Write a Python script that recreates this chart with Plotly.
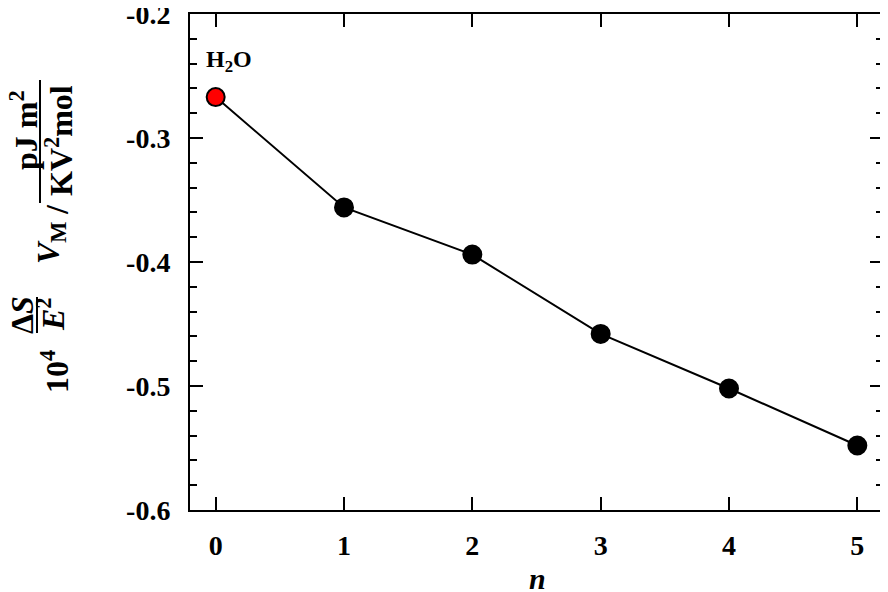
import plotly.graph_objects as go

# data
n_values = [0, 1, 2, 3, 4, 5]
entropy_values = [-0.267, -0.356, -0.394, -0.458, -0.502, -0.548]
marker_colors = ['red', 'black', 'black', 'black', 'black', 'black']
y_tickvals = [-0.6, -0.5, -0.4, -0.3, -0.2]
y_ticktext = ['-0.6', '-0.5', '-0.4', '-0.3', '-0.2']

FONT = 'Liberation Serif'
# the page body has an 8px margin, so the figure is drawn 8px in from the window corner
PAGE = 8
W, H = 888 - PAGE, 592 - PAGE
# plot area in window pixels
X0, X1, Y0, Y1 = 190, 883, 14, 510


def px(x):
    return (x - X0) / (X1 - X0)


def py(y):
    return (Y1 - y) / (Y1 - Y0)


fig = go.Figure()

fig.add_trace(go.Scatter(
    x=n_values,
    y=entropy_values,
    mode='lines+markers',
    line=dict(color='black', width=2),
    marker=dict(size=18, color=marker_colors, line=dict(color='black', width=2)),
    showlegend=False,
))

# H2O label next to the first point
fig.add_annotation(
    x=n_values[0], y=entropy_values[0], text='<b>H<sub>2</sub>O</b>',
    showarrow=False, xshift=13, yshift=36,
    font=dict(family=FONT, size=24, color='black'),
)

# y axis label built from pieces (rotated text + fraction bars)
label_font = dict(family=FONT, size=32, color='black')
pieces = [
    ('<b>10<sup>4</sup></b>', 55, 372),
    ('<b>Δ<i>S</i></b>', 22, 315),
    ('<b><i>E</i><sup>2</sup></b>', 51, 314),
    ('<b><i>V</i><sub>M</sub></b>', 50, 243),
    ('<b>/</b>', 57, 210),
    ('<b>pJ m<sup>2</sup></b>', 24, 130),
    ('<b>KV<sup>2</sup>mol</b>', 59, 141),
]
for text, x, y in pieces:
    fig.add_annotation(
        x=px(x), y=py(y), xref='paper', yref='paper', text=text,
        showarrow=False, textangle=-90, xanchor='center', yanchor='middle',
        font=label_font,
    )
for x, y0, y1 in [(37, 297, 333), (40, 80, 203)]:
    fig.add_shape(type='line', xref='paper', yref='paper',
                  x0=px(x), x1=px(x), y0=py(y0), y1=py(y1),
                  line=dict(color='black', width=2))

# x axis title
fig.add_annotation(
    x=px(537), y=py(578), xref='paper', yref='paper', text='<b><i>n</i></b>',
    showarrow=False, xanchor='center', yanchor='middle',
    font=dict(family=FONT, size=30, color='black'),
)

axis_common = dict(
    showline=True, linecolor='black', linewidth=2, mirror='ticks',
    ticks='inside', tickcolor='black', tickwidth=2, ticklen=13,
    showgrid=False, zeroline=False, ticklabeloverflow='allow',
    tickfont=dict(family=FONT, size=28, color='black', weight='bold'),
)

fig.update_xaxes(
    range=[-0.2, 5.2], tickvals=n_values,
    ticklabelstandoff=9,
    **axis_common,
)
fig.update_yaxes(
    range=[-0.6, -0.2], tickvals=y_tickvals, ticktext=y_ticktext,
    minor=dict(dtick=0.02, ticks='inside', ticklen=7, tickwidth=2, tickcolor='black'),
    ticklabelstandoff=12,
    **axis_common,
)

fig.update_layout(
    width=W, height=H,
    margin=dict(l=X0 - PAGE, r=888 - X1, t=Y0 - PAGE, b=592 - Y1, autoexpand=False),
    plot_bgcolor='white', paper_bgcolor='white',
    font=dict(family=FONT, color='black'),
)

fig.write_html('out.html')
